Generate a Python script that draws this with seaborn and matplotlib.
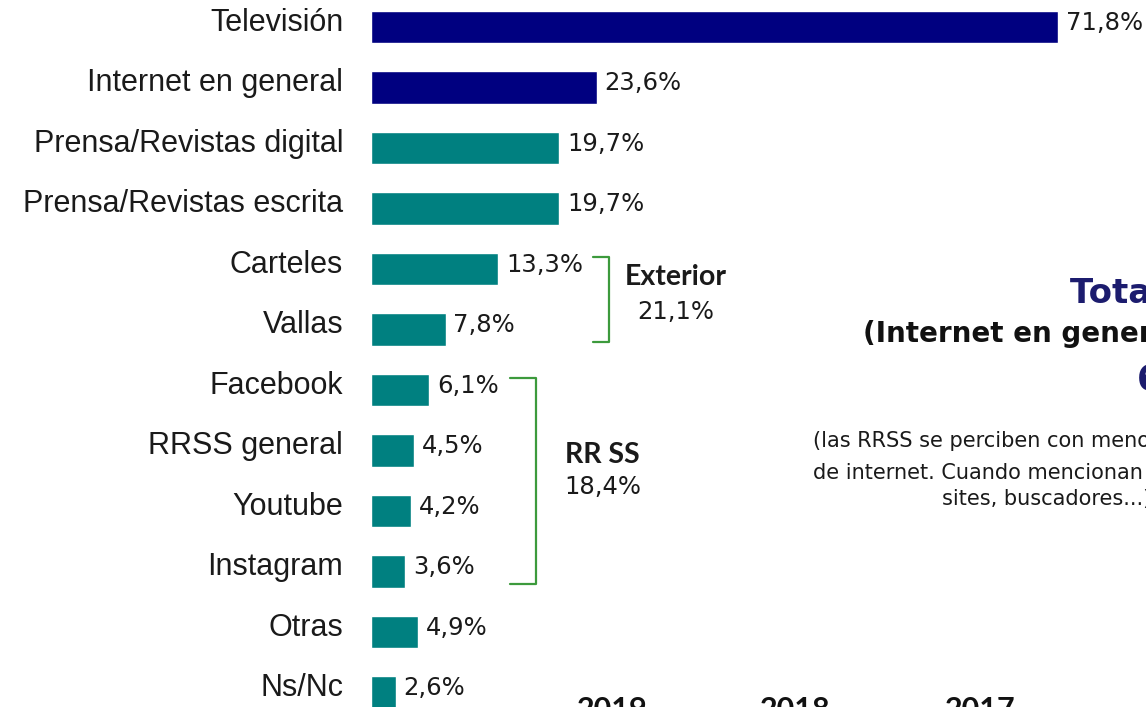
import matplotlib
matplotlib.use('Agg')
import matplotlib.pyplot as plt
import seaborn as sns
import pandas as pd

# Datos del gráfico
categorias = ['Televisión', 'Internet en general', 'Prensa/Revistas digital',
              'Prensa/Revistas escrita', 'Carteles', 'Vallas', 'Facebook',
              'RRSS general', 'Youtube', 'Instagram', 'Otras', 'Ns/Nc']
valores = [71.8, 23.6, 19.7, 19.7, 13.3, 7.8, 6.1, 4.5, 4.2, 3.6, 4.9, 2.6]
grupos = ['total', 'total'] + ['medio'] * 10
colores = {'total': '#000080', 'medio': '#008080'}

# Agrupaciones con llave
llave_exterior = ['Carteles', 'Vallas']
llave_rrss = ['Facebook', 'RRSS general', 'Youtube', 'Instagram']
total_exterior = 21.1
total_rrss = 18.4

anios = ['2019', '2018', '2017']

W, H = 1146, 707
sns.set_style('white')
plt.rcParams['font.family'] = ['Lato', 'DejaVu Sans']
gothic = ['DejaVu Sans']

fig = plt.figure(figsize=(W / 100, H / 100), dpi=100)
# px por unidad: (1058-371)/71.8
px_unit = 9.568
ax = fig.add_axes([371 / W, -15.75 / H, (W - 371) / W, 726 / H])

df = pd.DataFrame({'medio': categorias, 'valor': valores, 'grupo': grupos})
sns.barplot(data=df, x='valor', y='medio', hue='grupo', palette=colores,
            dodge=False, width=0.53, legend=False, saturation=1, ax=ax)

ax.set_xlim(0, (W - 371) / px_unit)
ax.set_ylim(len(categorias) - 0.5, -0.5)
ax.set_axis_off()


def fmt(v):
    return f'{v:.1f}'.replace('.', ',') + '%'


for i, (cat, v) in enumerate(zip(categorias, valores)):
    ax.annotate(cat, xy=(0, i), xytext=(-20, 3), textcoords='offset points',
                ha='right', va='center', fontsize=22, color='#1a1a1a',
                family=['Liberation Sans', 'DejaVu Sans'], annotation_clip=False)
    ax.annotate(fmt(v), xy=(v, i), xytext=(5.5, 3), textcoords='offset points',
                ha='left', va='center', fontsize=17.5, color='#1a1a1a',
                family=gothic, annotation_clip=False)


def llave(nombres, x_izq, x_der):
    idx = [categorias.index(n) for n in nombres]
    y0, y1 = min(idx) - 0.2, max(idx) + 0.2
    ax.plot([x_izq, x_der, x_der, x_izq], [y0, y0, y1, y1],
            color='#3c9a3c', lw=1.6, solid_joinstyle='round', clip_on=False)


llave(llave_exterior, 23.2, 24.9)
llave(llave_rrss, 14.5, 17.2)

ax.text(31.8, 4.13, 'Exterior', ha='center', va='center', fontsize=20.5,
        fontweight='bold', color='#1a1a1a')
ax.text(31.8, 4.71, fmt(total_exterior), ha='center', va='center',
        fontsize=17.5, color='#1a1a1a', family=gothic)
ax.text(24.2, 7.07, 'RR SS', ha='center', va='center', fontsize=20.5,
        fontweight='bold', color='#1a1a1a')
ax.text(24.2, 7.60, fmt(total_rrss), ha='center', va='center',
        fontsize=17.5, color='#1a1a1a', family=gothic)

# Texto de la derecha (recortado por el borde, como en el original)
fig.text(1070 / W, 1 - 303 / H, 'Total Internet', ha='left', va='baseline',
         fontsize=24.5, fontweight='bold', color='#1c1c6e', family=gothic)
fig.text(863 / W, 1 - 342 / H, '(Internet en general + RRSS)', ha='left',
         va='baseline', fontsize=20, fontweight='bold', color='#111111',
         family=gothic)
fig.text(1137 / W, 1 - 390 / H, '61,7%', ha='left', va='baseline',
         fontsize=25, fontweight='bold', color='#1c1c6e', family=gothic)
fig.text(813 / W, 1 - 447 / H, '(las RRSS se perciben con menos intensidad',
         ha='left', va='baseline', fontsize=15, color='#1a1a1a', family=gothic)
fig.text(813 / W, 1 - 479 / H, 'de internet. Cuando mencionan internet hablan de',
         ha='left', va='baseline', fontsize=15, color='#1a1a1a', family=gothic)
fig.text(942 / W, 1 - 505 / H, 'sites, buscadores...)',
         ha='left', va='baseline', fontsize=15, color='#1a1a1a', family=gothic)

for x, anio in zip([612, 795, 980], anios):
    fig.text(x / W, 1 - 696 / H, anio, ha='center', va='top', fontsize=22,
             fontweight='bold', color='#111111')

fig.savefig('out.png', dpi=100)
